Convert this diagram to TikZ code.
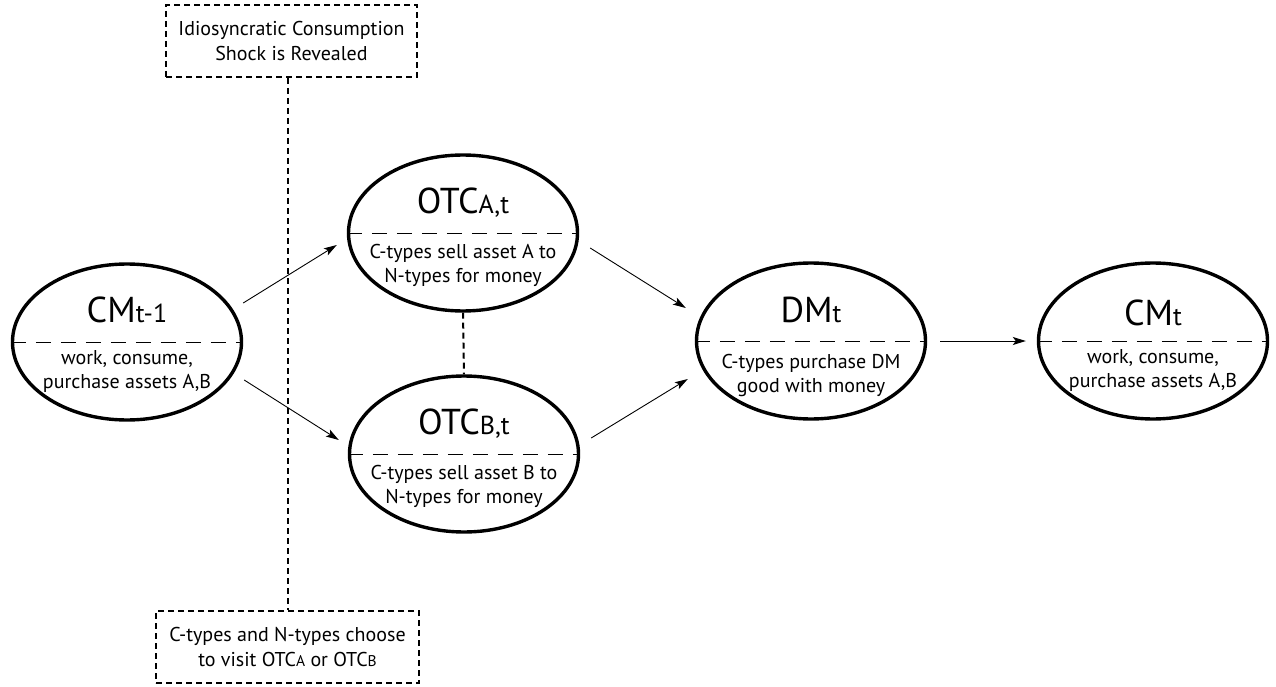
\documentclass[tikz,border=0pt]{standalone}
\usepackage{fontspec}
\setmainfont{PT Sans}
\usetikzlibrary{shapes.geometric,positioning,arrows.meta}

\newcommand{\lowpart}[1]{{\fontsize{26}{26}\selectfont #1}}
\newcommand{\boxpart}[1]{{\fontsize{15.5}{15.5}\selectfont #1}}

\begin{document}
\begin{tikzpicture}[x=1pt,y=1pt]

\tikzset{Stage/.style = {ellipse, draw, line width=3.4pt, minimum width=229pt,
                         minimum height=156pt, inner sep=0pt},
         StageTitle/.style = {font=\fontsize{36}{38}\selectfont, inner sep=0pt, anchor=base},
         StageText/.style = {font=\fontsize{20}{24}\selectfont, align=center, inner sep=0pt, anchor=base},
         Divider/.style = {line width=1pt, dash pattern=on 15pt off 10pt},
         InfoBox/.style = {draw, line width=2pt, dash pattern=on 6pt off 4pt, align=center,
                           font=\fontsize{20}{25}\selectfont, inner sep=0pt, minimum height=72pt},
         DotLink/.style = {line width=2pt, dash pattern=on 6pt off 4pt},
         Flow/.style = {-{Stealth[length=13pt,width=8pt,inset=3pt]}, line width=0.9pt}}

\useasboundingbox (0,0) rectangle (1276,-687);

\node[Stage] (cm1)  at (127,-342) {};
\node[Stage] (otca) at (463,-233) {};
\node[Stage] (otcb) at (464,-454) {};
\node[Stage] (dm)   at (811,-341) {};
\node[Stage] (cmt)  at (1153,-341) {};

\node[StageTitle, yshift=20pt] (cm1-t)  at (cm1.center)  {CM\lowpart{t-1}};
\node[StageTitle, yshift=20pt] (otca-t) at (otca.center) {OTC\lowpart{A,t}};
\node[StageTitle, yshift=20pt] (otcb-t) at (otcb.center) {OTC\lowpart{B,t}};
\node[StageTitle, yshift=19pt] (dm-t)   at (dm.center)   {DM\lowpart{t}};
\node[StageTitle, yshift=16pt] (cmt-t)  at (cmt.center)  {CM\lowpart{t}};

\node[StageText, yshift=-46pt] (cm1-b)  at (cm1.center)  {work, consume,\\purchase assets A,B};
\node[StageText, yshift=-49pt] (otca-b) at (otca.center) {C-types sell asset A to\\N-types for money};
\node[StageText, yshift=-49pt] (otcb-b) at (otcb.center) {C-types sell asset B to\\N-types for money};
\node[StageText, yshift=-51pt] (dm-b)   at (dm.center)   {C-types purchase DM\\good with money};
\node[StageText, yshift=-46pt] (cmt-b)  at (cmt.center)  {work, consume,\\purchase assets A,B};

\draw[Divider] (cm1.west) -- (cm1.east);
\draw[Divider] (otca.west) -- (otca.east);
\draw[Divider] (otcb.west) -- (otcb.east);
\draw[Divider] (dm.west) -- (dm.east);
\draw[Divider] (cmt.west) -- (cmt.east);

\node[InfoBox, minimum width=251pt] (shock)  at (291.5,-41)  {Idiosyncratic Consumption\\Shock is Revealed};
\node[InfoBox, minimum width=263pt] (choose) at (287.5,-647) {C-types and N-types choose\\to visit OTC\boxpart{A} or OTC\boxpart{B}};

\draw[DotLink] (shock.south -| choose.north) -- (choose.north);
\draw[DotLink] (otca.south) -- (otcb.north);

\draw[Flow] ([shift={(0pt,39pt)}]cm1.east) -- ([shift={(-10pt,-12pt)}]otca.west);
\draw[Flow] ([shift={(1pt,-38pt)}]cm1.east) -- ([shift={(-9pt,14pt)}]otcb.west);
\draw[Flow] ([shift={(11pt,-15pt)}]otca.east) -- ([shift={(-9pt,33pt)}]dm.west);
\draw[Flow] ([shift={(11pt,16pt)}]otcb.east) -- ([shift={(-7pt,-38pt)}]dm.west);
\draw[Flow] ([xshift=13pt]dm.east) -- ([xshift=-11pt]cmt.west);

\end{tikzpicture}
\end{document}
